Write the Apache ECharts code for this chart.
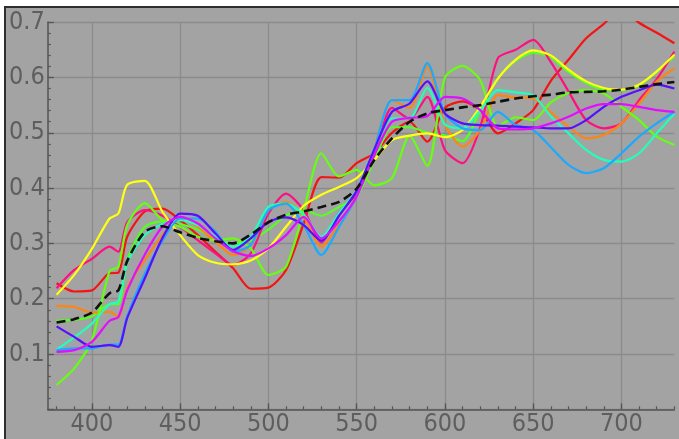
<!DOCTYPE html>
<html><head><meta charset="utf-8">
<script src="https://cdn.jsdelivr.net/npm/echarts@6/dist/echarts.min.js"></script>
<style>
html,body{margin:0;padding:0;background:#fff;width:679px;height:439px;overflow:hidden}
#frame{position:absolute;left:4px;top:6px;width:673px;height:431px;border-left:2px solid #2e2e2e;border-top:2px solid #2e2e2e;background:#a3a3a3}
#chart{position:absolute;left:0;top:0;width:673px;height:431px}
</style></head><body>
<div id="frame"><div id="chart"></div></div>
<script>
const wavelengths = [380,390,400,410,415,420,430,440,450,460,470,480,490,500,510,520,530,540,550,560,570,580,590,600,610,620,630,640,650,660,670,680,690,700,710,720,730];
const xMajorTicks = [400,450,500,550,600,650,700];
const xMinorTicks = [380,390,400,410,420,430,440,450,460,470,480,490,500,510,520,530,540,550,560,570,580,590,600,610,620,630,640,650,660,670,680,690,700,710,720,730];

const red = [.228,.213,.215,.246,.247,.312,.358,.363,.342, .315,.285,.255,.218,.220,.252,.336,.420,.419,.445, .463,.500,.520,.484,.545,.557,.541,.499,.517,.541, .594,.632,.671,.697,.725,.699,.681,.662];
const crimson = [.219,.252,.272,.294,.285,.338,.360,.350,.330, .306,.282,.261,.282,.354,.390,.360,.302,.355,.390, .460,.545,.525,.565,.469,.445,.510,.635,.650,.668, .628,.575,.523,.508,.517,.559,.597,.647];
const orange = [.187,.185,.175,.176,.167,.220,.270,.315,.345, .330,.303,.279,.297,.360,.375,.348,.294,.335,.385, .470,.559,.545,.620,.515,.475,.505,.568,.564,.562, .537,.511,.490,.496,.517,.553,.593,.617];
const yellow = [.207,.243,.290,.345,.354,.406,.413,.357,.315, .279,.265,.262,.269,.291,.330,.368,.388,.402,.418, .451,.487,.495,.499,.492,.505,.547,.598,.632,.649, .640,.614,.593,.581,.578,.587,.611,.641];
const lime = [.044,.074,.125,.250,.258,.333,.373,.342,.330, .312,.306,.309,.291,.243,.258,.360,.463,.421,.433, .405,.418,.495,.440,.600,.621,.595,.512,.528,.523, .555,.572,.577,.571,.547,.523,.493,.478];
const green = [.160,.162,.168,.190,.190,.270,.330,.340,.335, .325,.310,.300,.305,.325,.350,.360,.350,.366,.385, .450,.510,.510,.500,.495,.485,.540,.598,.630,.645, .636,.610,.590,.578,.577,.586,.610,.638];
const aqua = [.108,.130,.155,.190,.195,.265,.315,.335,.342, .333,.312,.294,.312,.366,.372,.352,.312,.355,.396, .470,.526,.526,.581,.515,.508,.540,.577,.573,.568, .530,.499,.469,.451,.448,.463,.499,.535];
const azure = [.107,.110,.110,.117,.117,.168,.245,.305,.345, .345,.321,.285,.297,.360,.372,.333,.279,.330,.385, .470,.559,.559,.626,.535,.508,.505,.538,.514,.505, .474,.442,.427,.436,.463,.493,.517,.538];
const blue = [.150,.131,.113,.116,.113,.165,.237,.310,.354, .350,.318,.288,.309,.339,.347,.333,.305,.350,.395, .470,.538,.553,.593,.535,.517,.514,.513,.511,.510, .508,.508,.523,.547,.565,.577,.587,.580];
const magenta = [.104,.107,.122,.160,.167,.215,.280,.330,.348, .336,.309,.286,.277,.291,.315,.348,.309,.340,.385, .460,.520,.527,.530,.565,.562,.541,.508,.506,.508, .517,.529,.544,.552,.552,.547,.541,.538];
const mean = [.157,.163,.175,.210,.215,.268,.321,.331,.320, .310,.304,.300,.316,.338,.352,.358,.366,.375,.399, .451,.490,.520,.535,.541,.546,.550,.556,.562,.566, .569,.573,.574,.575,.578,.583,.588,.592];

const curves = [
  {name:'red', data:red, color:'#f51414'},
  {name:'green', data:green, color:'#55ff22'},
  {name:'crimson', data:crimson, color:'#ff1080'},
  {name:'orange', data:orange, color:'#ff8410'},
  {name:'lime', data:lime, color:'#66ff11'},
  {name:'yellow', data:yellow, color:'#ffff14'},
  {name:'aqua', data:aqua, color:'#22ffbb'},
  {name:'azure', data:azure, color:'#1aaaff'},
  {name:'blue', data:blue, color:'#5510ff'},
  {name:'magenta', data:magenta, color:'#e010ff'}
];

const labelFont = {color:'#5e5e5e', fontSize:25, fontFamily:"'Liberation Sans Narrow','DejaVu Sans Condensed','Liberation Sans',sans-serif"};

const series = curves.map(c => ({
  type:'line', name:c.name, xAxisIndex:0,
  data: wavelengths.map((w,i)=>[w,c.data[i]]),
  showSymbol:false, symbol:'none', smooth:0.25,
  lineStyle:{color:c.color, width:2.2}
}));
series.push({
  type:'line', name:'mean', xAxisIndex:0,
  data: wavelengths.map((w,i)=>[w,mean[i]]),
  showSymbol:false, symbol:'none', smooth:0.25,
  lineStyle:{color:'#111', width:2.6, type:[9,5]}
});

const chart = echarts.init(document.getElementById('chart'), null, {renderer:'canvas'});
chart.setOption({
  animation:false,
  backgroundColor:'#a3a3a3',
  grid:{left:37.3, top:14.2, right:4.6, bottom:29.7, containLabel:false},
  xAxis:[{
    type:'value', min:375, max:730, position:'bottom',
    axisLine:{show:true, onZero:false, lineStyle:{color:'#555', width:1.5}},
    axisTick:{show:true, inside:true, length:6, customValues:xMajorTicks, lineStyle:{color:'#555', width:1.3}},
    axisLabel:{show:true, customValues:xMajorTicks, margin:3, ...labelFont},
    splitLine:{show:true, lineStyle:{color:'#8b8b8b', width:1.3}}
  },{
    type:'value', min:375, max:730, position:'bottom',
    axisLine:{show:false},
    axisTick:{show:true, inside:true, length:3, customValues:xMinorTicks, lineStyle:{color:'#555', width:1.2}},
    axisLabel:{show:false},
    splitLine:{show:false}
  }],
  yAxis:{
    type:'value', min:0, max:0.7, interval:0.1,
    axisLine:{show:true, onZero:false, lineStyle:{color:'#555', width:1.5}},
    axisTick:{show:true, inside:true, length:6, lineStyle:{color:'#555', width:1.3}},
    minorTick:{show:true, splitNumber:5, length:3, lineStyle:{color:'#555', width:1.2}},
    axisLabel:{margin:3, formatter:v => v===0 ? '' : v.toFixed(1), ...labelFont},
    splitLine:{show:true, lineStyle:{color:'#8b8b8b', width:1.3}}
  },
  series
});
</script>
</body></html>
